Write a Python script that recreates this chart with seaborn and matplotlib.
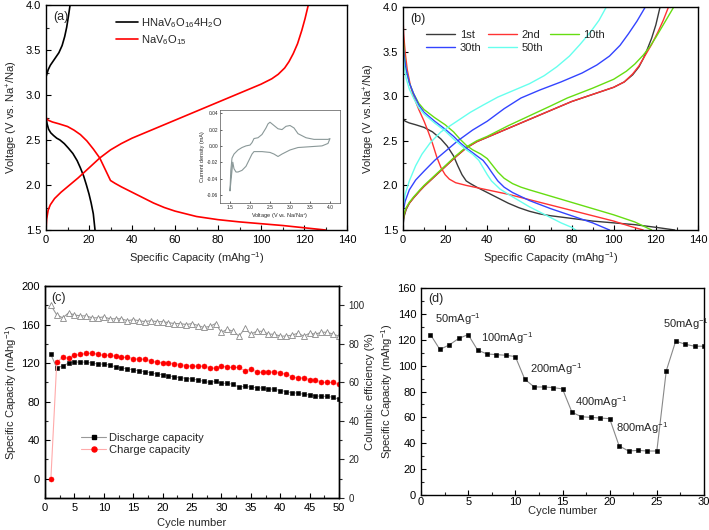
import pandas as pd
import matplotlib
matplotlib.use("Agg")
import matplotlib.pyplot as plt
import seaborn as sns
from matplotlib.lines import Line2D
from matplotlib.ticker import MultipleLocator, AutoMinorLocator, FormatStrFormatter

# ---------------- data ----------------
# (a) first cycle, two materials
hnav_x = [11.2, 10.4, 9.6, 8.7, 7.5, 6.0, 4.0, 2.0, 1.0, 0.0, 0.0, 0.0, 0.5, 1.2, 2.2, 3.5, 5.0, 6.5, 8.5, 10.4,
          12.5, 14.5, 16.0, 17.5, 18.8, 20.0, 21.0, 22.0, 22.8]
hnav_y = [4.0, 3.87, 3.75, 3.65, 3.55, 3.47, 3.40, 3.33, 3.28, 3.2, 3.0, 2.75, 2.68, 2.62, 2.58, 2.55, 2.52, 2.50, 2.46, 2.41,
          2.35, 2.27, 2.19, 2.10, 2.00, 1.90, 1.80, 1.68, 1.50]
nav_dis_x = [0, 1, 3, 6, 10, 13, 16, 19, 22, 25, 27, 29, 30, 32, 35, 40, 45, 50, 55, 60, 65, 70, 80, 90, 100, 110, 120, 130]
nav_dis_y = [2.75, 2.72, 2.70, 2.68, 2.65, 2.61, 2.56, 2.49, 2.40, 2.30, 2.20, 2.10, 2.05, 2.02, 1.98, 1.92, 1.86, 1.80,
             1.75, 1.71, 1.68, 1.65, 1.615, 1.59, 1.57, 1.55, 1.525, 1.50]
nav_chg_x = [0, 0.3, 1, 2, 4, 7, 10, 15, 20, 25, 30, 35, 40, 45, 50, 60, 70, 80, 90, 100, 105, 108, 111, 113, 115, 117,
             119, 120.5, 122]
nav_chg_y = [1.5, 1.62, 1.72, 1.78, 1.85, 1.92, 1.98, 2.08, 2.19, 2.30, 2.39, 2.46, 2.52, 2.57, 2.62, 2.72, 2.82, 2.92,
             3.02, 3.12, 3.18, 3.23, 3.30, 3.37, 3.46, 3.57, 3.72, 3.85, 4.0]

# inset CV
cv_v = [1.5, 1.52, 1.55, 1.6, 1.7, 1.8, 1.9, 2.0, 2.05, 2.1, 2.2, 2.3, 2.4, 2.45, 2.5, 2.6, 2.7, 2.8, 2.9, 3.0, 3.1, 3.2,
        3.4, 3.6, 3.8, 3.95, 4.0,
        3.95, 3.8, 3.5, 3.2, 3.0, 2.8, 2.7, 2.6, 2.5, 2.3, 2.1, 2.05, 2.0, 1.9, 1.8, 1.7, 1.65, 1.6, 1.57, 1.55, 1.52, 1.5]
cv_i = [-0.055, -0.03, -0.015, -0.01, -0.005, -0.002, 0.0, 0.001, 0.004, 0.009, 0.010, 0.014, 0.022, 0.027, 0.029, 0.025,
        0.021, 0.020, 0.024, 0.025, 0.022, 0.015, 0.010, 0.008, 0.008, 0.008, 0.009,
        0.003, 0.0, -0.001, -0.002, -0.005, -0.010, -0.013, -0.010, -0.008, -0.007, -0.007, -0.010, -0.015, -0.025,
        -0.030, -0.032, -0.032, -0.028, -0.020, -0.030, -0.045, -0.055]

# (b) selected cycles
c1_dis_x = [0, 1, 3, 6, 10, 14, 18, 21, 24, 26, 28, 30, 32, 35, 40, 45, 50, 55, 60, 65, 70, 80, 90, 100, 110, 120, 129]
c1_dis_y = [2.75, 2.72, 2.70, 2.68, 2.65, 2.60, 2.52, 2.44, 2.33, 2.22, 2.12, 2.05, 2.02, 1.98, 1.92, 1.86, 1.80, 1.75,
            1.71, 1.68, 1.66, 1.63, 1.60, 1.58, 1.56, 1.53, 1.50]
c1_chg_x = [0, 0.5, 1.5, 3, 5, 8, 10, 15, 20, 25, 30, 35, 40, 50, 60, 70, 80, 90, 100, 105, 109, 112, 114, 116, 118, 120, 122]
c1_chg_y = [1.55, 1.65, 1.73, 1.80, 1.86, 1.94, 1.99, 2.10, 2.21, 2.32, 2.42, 2.49, 2.54, 2.64, 2.74, 2.84, 2.94, 3.02,
            3.10, 3.16, 3.24, 3.33, 3.42, 3.53, 3.65, 3.80, 4.0]
c2_dis_x = [0, 0.3, 1, 2, 3.5, 5, 7.5, 10, 12, 14, 16, 18, 20, 22, 25, 30, 40, 50, 60, 70, 80, 90, 100, 108, 114]
c2_dis_y = [3.9, 3.7, 3.5, 3.3, 3.12, 3.0, 2.85, 2.72, 2.60, 2.47, 2.32, 2.20, 2.12, 2.07, 2.03, 2.0, 1.95, 1.90, 1.84,
            1.78, 1.72, 1.66, 1.60, 1.54, 1.50]
c2_chg_x = [0, 0.5, 1.5, 3, 5, 8, 10, 15, 20, 25, 30, 35, 40, 50, 60, 70, 80, 90, 100, 105, 109, 112, 115, 118, 121, 123.5, 126]
c2_chg_y = [1.6, 1.67, 1.74, 1.80, 1.86, 1.94, 1.99, 2.10, 2.21, 2.32, 2.42, 2.49, 2.54, 2.64, 2.74, 2.84, 2.94, 3.02,
            3.10, 3.16, 3.25, 3.34, 3.46, 3.58, 3.72, 3.85, 4.0]
c10_dis_x = [0, 0.5, 1.5, 3, 5, 7.5, 10, 15, 20, 24, 27, 30, 33, 37, 40, 42, 45, 48, 52, 56, 60, 70, 80, 90, 100, 110, 118]
c10_dis_y = [3.7, 3.5, 3.3, 3.15, 3.03, 2.92, 2.85, 2.76, 2.68, 2.60, 2.52, 2.45, 2.40, 2.35, 2.30, 2.24, 2.15, 2.08,
             2.02, 1.98, 1.95, 1.88, 1.81, 1.74, 1.67, 1.59, 1.50]
c10_chg_x = [0, 0.5, 1.5, 3, 5, 8, 10, 15, 20, 25, 30, 35, 40, 50, 60, 70, 78, 90, 100, 106, 110, 114, 117, 120, 123, 126, 128.5]
c10_chg_y = [1.6, 1.68, 1.75, 1.81, 1.87, 1.95, 2.0, 2.11, 2.22, 2.33, 2.43, 2.50, 2.55, 2.67, 2.78, 2.89, 2.98, 3.09,
             3.19, 3.28, 3.36, 3.46, 3.55, 3.66, 3.78, 3.90, 4.0]
c30_dis_x = [0, 0.5, 1.5, 3, 5, 7.5, 10, 15, 20, 24, 27, 30, 34, 38, 40, 42, 45, 48, 52, 60, 70, 80, 90, 98]
c30_dis_y = [3.6, 3.45, 3.3, 3.15, 3.03, 2.90, 2.82, 2.72, 2.63, 2.55, 2.48, 2.42, 2.35, 2.28, 2.22, 2.15, 2.05, 1.98,
             1.92, 1.83, 1.74, 1.66, 1.58, 1.50]
c30_chg_x = [0, 1, 3, 6, 10, 15, 20, 26, 33, 40, 48, 56, 65, 75, 85, 92, 98, 103, 107, 111, 115]
c30_chg_y = [1.7, 1.82, 1.95, 2.06, 2.16, 2.28, 2.38, 2.50, 2.62, 2.72, 2.86, 2.98, 3.07, 3.16, 3.26, 3.35, 3.45, 3.57,
             3.70, 3.84, 4.0]
c50_dis_x = [0, 0.5, 1.5, 3, 5, 7.5, 10, 15, 20, 24, 27, 30, 33, 36, 38, 40, 42, 46, 50, 55, 60, 65, 70, 75, 80, 82]
c50_dis_y = [3.5, 3.35, 3.2, 3.08, 2.98, 2.87, 2.80, 2.70, 2.61, 2.52, 2.46, 2.40, 2.35, 2.28, 2.20, 2.12, 2.05, 1.96,
             1.90, 1.83, 1.76, 1.70, 1.64, 1.58, 1.53, 1.50]
c50_chg_x = [0, 1, 3, 6, 9, 13, 18, 25, 32, 38, 45, 52, 60, 67, 73, 79, 84, 89, 93, 96.5]
c50_chg_y = [1.75, 1.9, 2.05, 2.22, 2.35, 2.48, 2.60, 2.71, 2.82, 2.90, 2.99, 3.06, 3.14, 3.23, 3.33, 3.45, 3.58, 3.72,
             3.85, 4.0]

# (c) cycling
cycles = list(range(1, 51))
discharge_cap = [129, 115, 117, 120, 121, 121, 121, 120, 119, 119, 118, 116, 115, 114, 113, 112, 111, 110, 108.5, 108,
                 107, 105.5, 105, 104, 103.5, 102.5, 101, 100, 101, 99, 99, 98, 95, 96, 95, 94.5, 94, 93, 93, 91.5,
                 90.5, 89, 89, 87.5, 87, 86, 85.5, 85.5, 84.5, 82.5]
charge_cap = [0, 121, 126, 125, 128, 129, 130, 130.5, 129, 128, 128.5, 127, 126, 126, 124.5, 124.5, 124, 122, 121, 120.5,
              120, 119.5, 118.5, 117.5, 117, 117, 117, 115, 115, 117, 116, 115.5, 115.5, 112, 113.5, 111, 110.5, 111, 111, 110,
              108.5, 106, 104.5, 105, 102.5, 102.5, 100, 100, 100, 98]
efficiency = [100, 95, 93.5, 96, 95, 94.5, 94.5, 93.5, 93.5, 94, 93, 93, 93, 92, 92.5, 92, 91.5, 92, 91.5, 91.5,
              91, 90.5, 90.5, 90, 90.5, 89.5, 88.5, 89, 90.5, 86, 87.5, 86.5, 84, 88, 85, 86.5, 86.5, 85, 85, 84,
              84, 84.5, 85.5, 84, 85.5, 85, 86, 86, 85, 84]

# (d) rate capability
rate_cycles = list(range(1, 31))
rate_cap = [124, 112.5, 116, 121, 124, 112, 109, 108.5, 108, 107, 89.5, 83.5, 83.5, 83, 82,
            64, 60.5, 60, 59.5, 59, 38, 34, 34.5, 34, 34, 96, 119, 116.5, 115, 115]
rate_labels = ["50mAg$^{-1}$", "100mAg$^{-1}$", "200mAg$^{-1}$", "400mAg$^{-1}$", "800mAg$^{-1}$", "50mAg$^{-1}$"]
rate_label_x = [1.5, 6.4, 11.6, 16.3, 20.7, 25.7]
rate_label_y = [136, 121, 97, 72, 52, 132]

# ---------------- style ----------------
sns.set_style("ticks")
plt.rcParams['font.family'] = ['Liberation Sans', 'DejaVu Sans']
plt.rcParams['mathtext.default'] = 'regular'
plt.rcParams['xtick.direction'] = 'in'
plt.rcParams['ytick.direction'] = 'in'
plt.rcParams['axes.linewidth'] = 1.0
plt.rcParams['axes.edgecolor'] = 'black'
fs = 8

W, H = 709, 530
fig = plt.figure(figsize=(7.09, 5.30), dpi=100)


def box(l, r, t, b):
    return [l / W, 1 - b / H, (r - l) / W, (b - t) / H]


def style(ax, xmaj, ymaj):
    ax.xaxis.set_major_locator(MultipleLocator(xmaj))
    ax.yaxis.set_major_locator(MultipleLocator(ymaj))
    ax.xaxis.set_minor_locator(AutoMinorLocator(2))
    ax.yaxis.set_minor_locator(AutoMinorLocator(2))
    ax.tick_params(which='major', length=3.5, width=0.8, labelsize=fs, colors='black')
    ax.tick_params(which='minor', length=2, width=0.8)
    for s in ax.spines.values():
        s.set_visible(True)
        s.set_color('black')


def curve(ax, x, y, color, label=None, lw=1.0):
    sns.lineplot(x=x, y=y, sort=False, estimator=None, color=color, lw=lw, ax=ax, label=label)


# ---------------- (a) ----------------
ax_a = fig.add_axes(box(46, 347, 5, 230))
curve(ax_a, hnav_x, hnav_y, 'black', r'HNaV$_6$O$_{16}$4H$_2$O', 1.2)
curve(ax_a, nav_dis_x, nav_dis_y, '#ff0000', r'NaV$_6$O$_{15}$', 1.2)
curve(ax_a, nav_chg_x, nav_chg_y, '#ff0000', None, 1.2)
ax_a.set_xlim(0, 140)
ax_a.set_ylim(1.5, 4.0)
style(ax_a, 20, 0.5)
ax_a.set_xlabel("Specific Capacity (mAhg$^{-1}$)", fontsize=fs)
ax_a.set_ylabel("Voltage (V vs. Na$^{+}$/Na)", fontsize=fs)
ax_a.legend(loc='upper left', bbox_to_anchor=(0.2, 0.995), frameon=False, fontsize=fs,
            handlelength=2.0, handletextpad=0.25, labelspacing=0.3)
ax_a.text(0.025, 0.975, "(a)", transform=ax_a.transAxes, ha='left', va='top', fontsize=fs + 1)

ax_in = fig.add_axes(box(220, 340, 110, 203))
sns.lineplot(x=cv_v, y=cv_i, sort=False, estimator=None, color='#8a9898', lw=0.8, ax=ax_in)
ax_in.set_xlim(1.25, 4.25)
ax_in.set_ylim(-0.07, 0.044)
ax_in.xaxis.set_major_locator(MultipleLocator(0.5))
ax_in.yaxis.set_major_locator(MultipleLocator(0.02))
ax_in.tick_params(length=1.5, width=0.5, labelsize=3.5, pad=1.5)
ax_in.yaxis.set_major_formatter(FormatStrFormatter('%.2f'))
ax_in.xaxis.set_major_formatter(FormatStrFormatter('%.1f'))
for s in ax_in.spines.values():
    s.set_linewidth(0.5)
    s.set_color('#555555')
ax_in.set_xlabel("Voltage (V vs. Na/Na$^{+}$)", fontsize=4, labelpad=1)
ax_in.set_ylabel("Current density (mA)", fontsize=4, labelpad=1)

# ---------------- (b) ----------------
ax_b = fig.add_axes(box(403, 698, 7, 230))
cyc_cols = {'1st': '#3a3a3a', '2nd': '#ff3333', '10th': '#66dd11', '30th': '#3344ff', '50th': '#66ffee'}
for lab, dx, dy, cx, cy in [('1st', c1_dis_x, c1_dis_y, c1_chg_x, c1_chg_y),
                            ('2nd', c2_dis_x, c2_dis_y, c2_chg_x, c2_chg_y),
                            ('10th', c10_dis_x, c10_dis_y, c10_chg_x, c10_chg_y),
                            ('30th', c30_dis_x, c30_dis_y, c30_chg_x, c30_chg_y),
                            ('50th', c50_dis_x, c50_dis_y, c50_chg_x, c50_chg_y)]:
    curve(ax_b, dx, dy, cyc_cols[lab], None)
    curve(ax_b, cx, cy, cyc_cols[lab], None)
ax_b.set_xlim(0, 140)
ax_b.set_ylim(1.5, 4.0)
style(ax_b, 20, 0.5)
ax_b.set_xlabel("Specific Capacity (mAhg$^{-1}$)", fontsize=fs)
ax_b.set_ylabel("Voltage (V vs.Na$^{+}$/Na)", fontsize=fs)
order = ['1st', '30th', '2nd', '50th', '10th']
handles = [Line2D([], [], color=cyc_cols[k], lw=1) for k in order]
ax_b.legend(handles, order, ncol=3, loc='upper left', bbox_to_anchor=(0.045, 0.94), frameon=False,
            fontsize=fs, handlelength=2.6, handletextpad=0.4, columnspacing=0.6, labelspacing=0.25)
ax_b.text(0.025, 0.975, "(b)", transform=ax_b.transAxes, ha='left', va='top', fontsize=fs + 1)

# ---------------- (c) ----------------
ax_c = fig.add_axes(box(45, 339, 286, 498))
ax_c2 = ax_c.twinx()
sns.lineplot(x=cycles, y=efficiency, color='#999999', lw=0.8, marker='^', markersize=4.2,
             markerfacecolor='white', markeredgecolor='#888888', markeredgewidth=0.6, ax=ax_c2)
sns.lineplot(x=cycles, y=discharge_cap, color='#999999', lw=0.8, marker='s', markersize=3.3,
             markerfacecolor='black', markeredgecolor='black', markeredgewidth=0.4, ax=ax_c)
sns.lineplot(x=cycles, y=charge_cap, color='#ffaaaa', lw=0.8, marker='o', markersize=3.6,
             markerfacecolor='#ff0000', markeredgecolor='#ff0000', markeredgewidth=0.4, ax=ax_c)
ax_c.set_xlim(0, 50)
ax_c.set_ylim(-20, 200)
ax_c2.set_ylim(0, 110)
style(ax_c, 5, 40)
ax_c2.yaxis.set_major_locator(MultipleLocator(20))
ax_c2.yaxis.set_minor_locator(AutoMinorLocator(2))
ax_c2.tick_params(which='major', length=3.5, width=0.8, labelsize=fs - 1, direction='out')
ax_c2.tick_params(which='minor', length=2, width=0.8, direction='out')
ax_c.set_xlabel("Cycle number", fontsize=fs)
ax_c.set_ylabel("Specific Capacity (mAhg$^{-1}$)", fontsize=fs, labelpad=2)
ax_c2.set_ylabel("Columbic efficiency (%)", fontsize=fs)
ax_c2.yaxis.set_label_coords(1.09, 0.5)
leg_h = [Line2D([], [], color='#999999', lw=0.8, marker='s', markersize=3.3, markerfacecolor='black', markeredgecolor='black'),
         Line2D([], [], color='#ffaaaa', lw=0.8, marker='o', markersize=3.6, markerfacecolor='#ff0000', markeredgecolor='#ff0000')]
ax_c.legend(leg_h, ["Discharge capacity", "Charge capacity"], loc='upper left', bbox_to_anchor=(0.09, 0.355),
            frameon=False, fontsize=fs, handlelength=2.2, handletextpad=0.3, labelspacing=0.2)
ax_c.text(0.02, 0.97, "(c)", transform=ax_c.transAxes, ha='left', va='top', fontsize=fs + 1)

# ---------------- (d) ----------------
ax_d = fig.add_axes(box(421, 704, 288, 495))
sns.lineplot(x=rate_cycles, y=rate_cap, color='#888888', lw=0.8, marker='s', markersize=3.3,
             markerfacecolor='black', markeredgecolor='black', markeredgewidth=0.4, ax=ax_d)
for t, x, y in zip(rate_labels, rate_label_x, rate_label_y):
    ax_d.text(x, y, t, ha='left', va='center', fontsize=fs)
ax_d.set_xlim(0, 30)
ax_d.set_ylim(0, 160)
style(ax_d, 5, 20)
ax_d.tick_params(axis='x', which='major', pad=1.5)
ax_d.set_xlabel("Cycle number", fontsize=fs, labelpad=-1)
ax_d.set_ylabel("Specific Capacity (mAhg$^{-1}$)", fontsize=fs, labelpad=2)
ax_d.text(0.025, 0.975, "(d)", transform=ax_d.transAxes, ha='left', va='top', fontsize=fs + 1)

fig.savefig("out.png", dpi=100)
